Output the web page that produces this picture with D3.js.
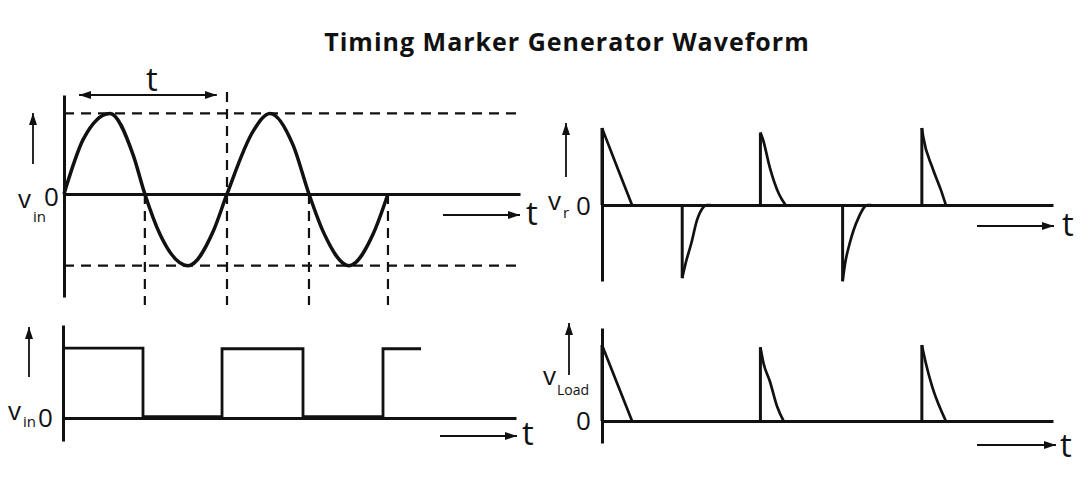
<!DOCTYPE html>
<html><head><meta charset="utf-8">
<script src="https://cdn.jsdelivr.net/npm/d3@7"></script>
<style>
body{margin:0;background:#fff}
svg{display:block}
text{font-family:'Open Sans',sans-serif;fill:#111}
</style>
</head><body>
<svg id="c" width="1080" height="491"></svg>
<script>
// ---------- data (time in half-periods of the input sine) ----------
const chartTitle = "Timing Marker Generator Waveform";
const sineT = [0, 0.239, 0.569, 0.857, 1.0, 1.187, 1.534, 1.847, 2.016, 2.34, 2.548, 2.836, 3.03, 3.207, 3.525, 3.826, 4.007];
const sineV = [0, 0.68, 1.0, 0.48, 0, -0.5, -0.89, -0.46, 0, 0.78, 1.0, 0.6, 0, -0.47, -0.89, -0.49, 0];
const sinePeak = 1.0, sineTrough = -0.89;
const zeroCrossT = [1.0, 2.016, 3.03, 4.007];
const squareEdgeT = [0.989, 1.966, 2.967, 3.956];
const squareLevel = [1.0, 0.02, 0.99, 0.02, 0.99];
const squareEndT = 4.426;
const vrT = [[0, 0.19, 0.375], [1.003, 1.05, 1.116, 1.187, 1.266, 1.31, 1.36], [1.981, 2.01, 2.098, 2.21, 2.295], [3.009, 3.04, 3.097, 3.21, 3.32, 3.37], [4.0, 4.018, 4.13, 4.24, 4.3]];
const vrV = [[1.0, 0.49, 0], [-0.95, -0.74, -0.5, -0.2, -0.03, 0, 0], [0.94, 0.86, 0.49, 0.15, 0], [-0.99, -0.76, -0.5, -0.16, 0, 0], [1.0, 0.88, 0.49, 0.19, 0]];
const vloadT = [[0, 0.184, 0.376], [1.981, 2.02, 2.1, 2.19, 2.27], [4.0, 4.05, 4.13, 4.24, 4.3]];
const vloadV = [[1.0, 0.51, 0], [0.97, 0.76, 0.52, 0.19, 0], [1.0, 0.76, 0.45, 0.14, 0]];
const axisLabels = {tl: ["v", "in"], bl: ["v", "in"], tr: ["v", "r"], br: ["v", "Load"]};
const zeroLabel = "0", timeLabel = "t";

// ---------- scales ----------
const xTL = d3.scaleLinear([0, 5.64], [64, 520]);
const yTL = d3.scaleLinear([-1.278, 1.228], [297, 95]);
const xBL = d3.scaleLinear([0, 5.6], [63, 516]);
const yBL = d3.scaleLinear([-0.33, 1.33], [441, 325]);
const xR = d3.scaleLinear([0, 5.64], [602, 1053]);
const yTR = d3.scaleLinear([-0.987, 1.0], [281, 128]);
const yBR = d3.scaleLinear([-0.29, 1.224], [443, 328]);

const svg = d3.select("#c");
const defs = svg.append("defs");
defs.append("marker").attr("id", "ah").attr("viewBox", "0 0 12 8").attr("refX", 12).attr("refY", 4)
  .attr("markerWidth", 12).attr("markerHeight", 8).attr("markerUnits", "userSpaceOnUse")
  .attr("orient", "auto-start-reverse")
  .append("path").attr("d", "M0,0 L12,4 L0,8 Z").attr("fill", "#111");

const ink = "#111";

svg.append("text").attr("x", 567).attr("y", 51).attr("text-anchor", "middle")
  .attr("font-size", 25).attr("font-weight", 700).attr("letter-spacing", 1).text(chartTitle);

function axes(x, y, yTop, yBot) {
  const ya = d3.axisLeft(d3.scaleLinear([yBot, yTop], [y(yBot), y(yTop)])).ticks(0).tickSize(0).tickSizeOuter(0);
  svg.append("g").attr("transform", `translate(${x(0)},0)`).call(ya)
    .call(g => g.select(".domain").attr("stroke", ink).attr("stroke-width", 3));
  const xa = d3.axisBottom(x).ticks(0).tickSize(0).tickSizeOuter(0);
  svg.append("g").attr("transform", `translate(0,${y(0)})`).call(xa)
    .call(g => g.select(".domain").attr("stroke", ink).attr("stroke-width", 3));
}

function arrow(x1, y1, x2, y2, both) {
  const l = svg.append("line").attr("x1", x1).attr("y1", y1).attr("x2", x2).attr("y2", y2)
    .attr("stroke", ink).attr("stroke-width", 1.8).attr("marker-end", "url(#ah)");
  if (both) l.attr("marker-start", "url(#ah)");
}

function label(x, y, main, sub, subDx, subDy, subSize, zx, zy) {
  svg.append("text").attr("x", x).attr("y", y).attr("font-size", 26).text(main);
  svg.append("text").attr("x", x + subDx).attr("y", y + subDy).attr("font-size", subSize).text(sub);
  svg.append("text").attr("x", zx).attr("y", zy).attr("font-size", 26).text(zeroLabel);
}
function tLabel(x, y, anchor) {
  svg.append("text").attr("x", x).attr("y", y).attr("font-size", 33).attr("text-anchor", anchor || "start").text(timeLabel);
}

// ---------- top-left: sine input ----------
const dash = "10,7";
[sinePeak, sineTrough].forEach(v => {
  svg.append("line").attr("x1", xTL(0)).attr("x2", xTL(5.63)).attr("y1", yTL(v)).attr("y2", yTL(v))
    .attr("stroke", ink).attr("stroke-width", 2.2).attr("stroke-dasharray", dash);
});
zeroCrossT.forEach((t, i) => {
  svg.append("line").attr("x1", xTL(t)).attr("x2", xTL(t))
    .attr("y1", i === 1 ? yTL(1.265) : yTL(0)).attr("y2", yTL(-1.377))
    .attr("stroke", ink).attr("stroke-width", 2.2).attr("stroke-dasharray", dash);
});
axes(xTL, yTL, 1.228, -1.278);
svg.append("path").datum(d3.zip(sineT, sineV))
  .attr("d", d3.line().x(d => xTL(d[0])).y(d => yTL(d[1])).curve(d3.curveMonotoneX))
  .attr("fill", "none").attr("stroke", ink).attr("stroke-width", 3.5);
arrow(xTL(0.186), yTL(1.228), xTL(1.89), yTL(1.228), true);
tLabel(xTL(1.088), 91, "middle");
arrow(33, 164, 33, 113);
arrow(443, 215, 520, 215);
tLabel(526, 225);
label(18, 208, axisLabels.tl[0], axisLabels.tl[1], 15, 14, 15, 44, 206);

// ---------- bottom-left: square wave ----------
axes(xBL, yBL, 1.33, -0.33);
const sqPts = [[0, squareLevel[0]]];
squareEdgeT.forEach((t, i) => { sqPts.push([t, squareLevel[i]]); sqPts.push([t, squareLevel[i + 1]]); });
sqPts.push([squareEndT, squareLevel[squareLevel.length - 1]]);
svg.append("path").datum(sqPts)
  .attr("d", d3.line().x(d => xBL(d[0])).y(d => yBL(d[1])))
  .attr("fill", "none").attr("stroke", ink).attr("stroke-width", 2.8);
arrow(29, 377, 29, 327);
arrow(440, 436, 517, 436);
tLabel(522, 445);
label(8, 420, axisLabels.bl[0], axisLabels.bl[1], 15, 7, 15, 38, 427);

// ---------- right panels: spikes ----------
function spikes(T, V, y) {
  const ln = d3.line().x(d => xR(d[0])).y(d => y(d[1])).curve(d3.curveMonotoneX);
  T.forEach((ts, i) => {
    svg.append("line").attr("x1", xR(ts[0])).attr("x2", xR(ts[0])).attr("y1", y(0)).attr("y2", y(V[i][0]))
      .attr("stroke", ink).attr("stroke-width", 3);
    svg.append("path").datum(d3.zip(ts, V[i])).attr("d", ln)
      .attr("fill", "none").attr("stroke", ink).attr("stroke-width", 2.7);
  });
}
axes(xR, yTR, 1.0, -0.987);
spikes(vrT, vrV, yTR);
arrow(566, 177, 566, 123);
arrow(977, 226, 1054, 226);
tLabel(1062, 236);
label(548, 210, axisLabels.tr[0], axisLabels.tr[1], 15, 8, 15, 576, 215);

axes(xR, yBR, 1.224, -0.29);
spikes(vloadT, vloadV, yBR);
arrow(569, 375, 569, 323);
arrow(977, 445, 1056, 445);
tLabel(1060, 457);
label(543, 385, axisLabels.br[0], axisLabels.br[1], 14, 10, 14, 576, 430);
</script>
</body></html>
